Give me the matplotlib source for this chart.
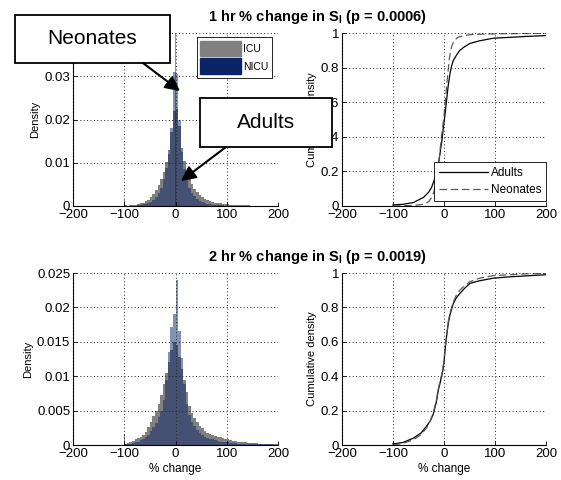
import numpy as np
import matplotlib
matplotlib.use('Agg')
import matplotlib.pyplot as plt
from matplotlib.patches import Patch, Rectangle, FancyArrowPatch

plt.rc('font', family=['Liberation Sans', 'DejaVu Sans'], size=9)
plt.rc('mathtext', fontset='custom', rm='Liberation Sans', bf='Liberation Sans:bold')

# histogram bins (% change), 5 wide from -100 to 200
bin_edges = np.arange(-100, 205, 5)

# 1 hr, density per bin
icu_1hr = [0.0002, 0.0001, 0.0002, 0.0002, 0.0003, 0.0004, 0.0006, 0.0008, 0.0011, 0.0015,
           0.0020, 0.0027, 0.0036, 0.0048, 0.0062, 0.0078, 0.0102, 0.0130, 0.0170, 0.0220,
           0.0225, 0.0185, 0.0135, 0.0103, 0.0078, 0.0062, 0.0050, 0.0039, 0.0032, 0.0026,
           0.0021, 0.0017, 0.0014, 0.0012, 0.0010, 0.0008, 0.0007, 0.0006, 0.0005, 0.0004,
           0.0004, 0.0003, 0.0003, 0.0003, 0.0002, 0.0002, 0.0002, 0.0002, 0.0002, 0.0001,
           0.0001, 0.0001, 0.0001, 0.0001, 0.0001, 0.0001, 0.0001, 0.0001, 0.0001, 0.0001]
nicu_1hr = [0.0001, 0.0001, 0.0001, 0.0001, 0.0001, 0.0002, 0.0003, 0.0004, 0.0005, 0.0007,
            0.0010, 0.0014, 0.0020, 0.0030, 0.0042, 0.0062, 0.0088, 0.0120, 0.0180, 0.0310,
            0.0305, 0.0200, 0.0125, 0.0085, 0.0060, 0.0042, 0.0030, 0.0022, 0.0016, 0.0012,
            0.0009, 0.0007, 0.0005, 0.0004, 0.0003, 0.0003, 0.0002, 0.0002, 0.0002, 0.0001,
            0.0001, 0.0001, 0.0001, 0.0001, 0.0001, 0.0001, 0.0001, 0.0001, 0.0, 0.0,
            0.0, 0.0, 0.0, 0.0, 0.0, 0.0, 0.0, 0.0, 0.0, 0.0]

# 2 hr, density per bin
icu_2hr = [0.0002, 0.0003, 0.0004, 0.0006, 0.0008, 0.0010, 0.0012, 0.0015, 0.0019, 0.0026,
           0.0034, 0.0042, 0.0050, 0.0060, 0.0072, 0.0088, 0.0105, 0.0120, 0.0138, 0.0150,
           0.0145, 0.0128, 0.0110, 0.0095, 0.0077, 0.0057, 0.0047, 0.0039, 0.0033, 0.0028,
           0.0024, 0.0021, 0.0018, 0.0016, 0.0014, 0.0013, 0.0012, 0.0011, 0.0010, 0.0009,
           0.0008, 0.0007, 0.0006, 0.0006, 0.0005, 0.0005, 0.0004, 0.0004, 0.0003, 0.0003,
           0.0003, 0.0003, 0.0002, 0.0002, 0.0002, 0.0002, 0.0002, 0.0001, 0.0001, 0.0001]
nicu_2hr = [0.0001, 0.0001, 0.0002, 0.0003, 0.0004, 0.0005, 0.0007, 0.0008, 0.0011, 0.0015,
            0.0020, 0.0026, 0.0032, 0.0040, 0.0050, 0.0066, 0.0095, 0.0135, 0.0172, 0.0190,
            0.0240, 0.0165, 0.0126, 0.0088, 0.0060, 0.0043, 0.0033, 0.0027, 0.0022, 0.0018,
            0.0015, 0.0012, 0.0010, 0.0009, 0.0008, 0.0007, 0.0006, 0.0005, 0.0005, 0.0004,
            0.0004, 0.0003, 0.0003, 0.0003, 0.0002, 0.0002, 0.0002, 0.0002, 0.0002, 0.0001,
            0.0001, 0.0001, 0.0001, 0.0001, 0.0001, 0.0001, 0.0001, 0.0001, 0.0, 0.0]

# narrow spikes: (position, height)
icu_spike_1hr = (-100, 0.0013)
nicu_spike_1hr = (0, 0.05)
icu_spike_2hr = (-100, 0.0016)

# cumulative curves
adults_1hr_x = [-100, -80, -60, -40, -30, -24, -18, -14, -10, -8, -4, -1, 2, 5, 8, 12, 15, 18,
                24, 31, 40, 51, 70, 97, 130, 160, 200]
adults_1hr_y = [0.006, 0.01, 0.02, 0.05, 0.08, 0.11, 0.16, 0.2, 0.26, 0.3, 0.38, 0.46, 0.53,
                0.61, 0.69, 0.77, 0.81, 0.84, 0.87, 0.9, 0.92, 0.94, 0.955, 0.97, 0.975, 0.98, 0.985]
neonates_1hr_x = [-100, -60, -40, -30, -24, -20, -15, -10, -5, 0, 3, 6, 10, 13, 16, 20, 25, 30,
                  40, 50, 70, 100, 150, 200]
neonates_1hr_y = [0.0, 0.003, 0.01, 0.025, 0.05, 0.08, 0.15, 0.26, 0.4, 0.52, 0.62, 0.72, 0.84,
                  0.9, 0.93, 0.955, 0.97, 0.978, 0.985, 0.99, 0.993, 0.995, 0.997, 0.998]
adults_2hr_x = [-100, -80, -60, -45, -34, -27, -21, -15, -11, -7, -3, 0, 2, 5, 8.5, 12, 18, 24,
                31, 40, 51, 70, 97, 130, 160, 200]
adults_2hr_y = [0.006, 0.015, 0.04, 0.07, 0.11, 0.14, 0.18, 0.25, 0.32, 0.37, 0.42, 0.48, 0.55,
                0.63, 0.71, 0.76, 0.82, 0.855, 0.88, 0.91, 0.94, 0.955, 0.97, 0.978, 0.983, 0.99]
neonates_2hr_x = adults_2hr_x
neonates_2hr_y = [0.0, 0.01, 0.03, 0.06, 0.1, 0.14, 0.19, 0.26, 0.33, 0.38, 0.43, 0.49, 0.56,
                  0.64, 0.72, 0.77, 0.83, 0.87, 0.9, 0.925, 0.95, 0.97, 0.985, 0.99, 0.995, 0.997]

titles = [r'1 hr % change in S$_\mathbf{I}$ (p = 0.0006)',
          r'2 hr % change in S$_\mathbf{I}$ (p = 0.0019)']

gray = '#808080'
navy = '#0b2466'
W, H = 561, 480


def fpos(px, py):
    # pixel from top-left -> figure fraction
    return (px / W, 1 - py / H)


def style_ax(ax, ylim, yticks):
    ax.set_xlim(-200, 200)
    ax.set_ylim(*ylim)
    ax.set_xticks([-200, -100, 0, 100, 200])
    ax.set_yticks(yticks)
    ax.spines['top'].set_visible(False)
    ax.spines['right'].set_visible(False)
    ax.tick_params(direction='in', length=3, width=0.6, labelsize=9.5, pad=2)
    ax.grid(True, color='0.15', linestyle=(0, (1, 2.5)), linewidth=0.7)
    ax.set_axisbelow(False)


fig = plt.figure(figsize=(W / 100, H / 100), dpi=100)
ax1 = fig.add_axes([73 / W, 1 - 206 / H, 205 / W, 173 / H])
ax2 = fig.add_axes([342 / W, 1 - 206 / H, 204 / W, 173 / H])
ax3 = fig.add_axes([73 / W, 1 - 445 / H, 205 / W, 172 / H])
ax4 = fig.add_axes([342 / W, 1 - 445 / H, 204 / W, 172 / H])

hist_sets = [(ax1, icu_1hr, nicu_1hr, (0, 0.04), [0, 0.01, 0.02, 0.03, 0.04]),
             (ax3, icu_2hr, nicu_2hr, (0, 0.025), [0, 0.005, 0.01, 0.015, 0.02, 0.025])]
for ax, icu, nicu, ylim, yt in hist_sets:
    ax.stairs(icu, bin_edges, fill=True, color=gray, lw=0, zorder=1)
    ax.stairs(nicu, bin_edges, fill=True, color=navy, alpha=0.5, lw=0, zorder=1.1)
    style_ax(ax, ylim, yt)
    ax.set_ylabel('Density', fontsize=8, labelpad=3)
    ax.yaxis.set_major_formatter(plt.FuncFormatter(lambda v, p: ('%g' % v)))

ax1.bar(icu_spike_1hr[0], icu_spike_1hr[1], width=1.2, align='edge', color=gray, lw=0, zorder=1)
ax1.bar(nicu_spike_1hr[0], nicu_spike_1hr[1], width=1.2, align='center', color=navy,
        alpha=0.5, lw=0, zorder=1.1)
ax3.bar(icu_spike_2hr[0], icu_spike_2hr[1], width=1.2, align='edge', color=gray, lw=0, zorder=1)

lg1 = ax1.legend(handles=[Patch(color=gray, label='ICU'), Patch(color=navy, label='NICU')],
                 loc='upper right', bbox_to_anchor=(0.97, 0.975), fontsize=7.5, frameon=True,
                 fancybox=False, edgecolor='black', framealpha=1, handlelength=3.9,
                 handleheight=1.9, borderpad=0.35, labelspacing=0.2, handletextpad=0.2,
                 borderaxespad=0)
lg1.get_frame().set_linewidth(0.6)

cdf_sets = [(ax2, adults_1hr_x, adults_1hr_y, neonates_1hr_x, neonates_1hr_y),
            (ax4, adults_2hr_x, adults_2hr_y, neonates_2hr_x, neonates_2hr_y)]
for ax, ax_x, ax_y, nx, ny in cdf_sets:
    ax.plot(ax_x, ax_y, color='black', lw=0.9, label='Adults')
    ax.plot(nx, ny, color='0.35', lw=0.9, dashes=(6, 3), label='Neonates')
    style_ax(ax, (0, 1), [0, 0.2, 0.4, 0.6, 0.8, 1])
    ax.set_ylabel('Cumulative density', fontsize=8, labelpad=3)
    ax.yaxis.set_major_formatter(plt.FuncFormatter(lambda v, p: ('%g' % v)))

lg = ax2.legend(loc='lower right', bbox_to_anchor=(1.0, 0.03), fontsize=8.5, frameon=True,
                fancybox=False, edgecolor='black', framealpha=1, handlelength=4.2,
                borderpad=0.4, labelspacing=0.45, handletextpad=0.2, borderaxespad=0)
lg.get_frame().set_linewidth(0.6)

ax3.set_xlabel('% change', fontsize=8.5, labelpad=2)
ax4.set_xlabel('% change', fontsize=8.5, labelpad=2)

fig.text(*fpos(317, 17), titles[0], ha='center', va='center', fontsize=10.5, fontweight='bold')
fig.text(*fpos(317, 257), titles[1], ha='center', va='center', fontsize=10.5, fontweight='bold')

# callout boxes with arrows
callouts = [('Neonates', (15, 15, 170, 63), (143, 63), (180, 91)),
            ('Adults', (200, 98, 332, 147), (226, 147), (181, 181))]
for label, (x0, y0, x1, y1), tail, head in callouts:
    bx, by = fpos(x0, y1)
    rect = Rectangle((bx, by), (x1 - x0) / W, (y1 - y0) / H, transform=fig.transFigure,
                     facecolor='white', edgecolor='black', lw=1.3, zorder=5)
    fig.add_artist(rect)
    fig.text(*fpos((x0 + x1) / 2, (y0 + y1) / 2), label, ha='center', va='center',
             fontsize=15, zorder=6)
    arr = FancyArrowPatch(fpos(*tail), fpos(*head), transform=fig.transFigure,
                          arrowstyle='-|>', mutation_scale=22, lw=1.5, color='black',
                          shrinkA=0, shrinkB=0, zorder=6)
    fig.add_artist(arr)

fig.savefig('out.png', dpi=100)
